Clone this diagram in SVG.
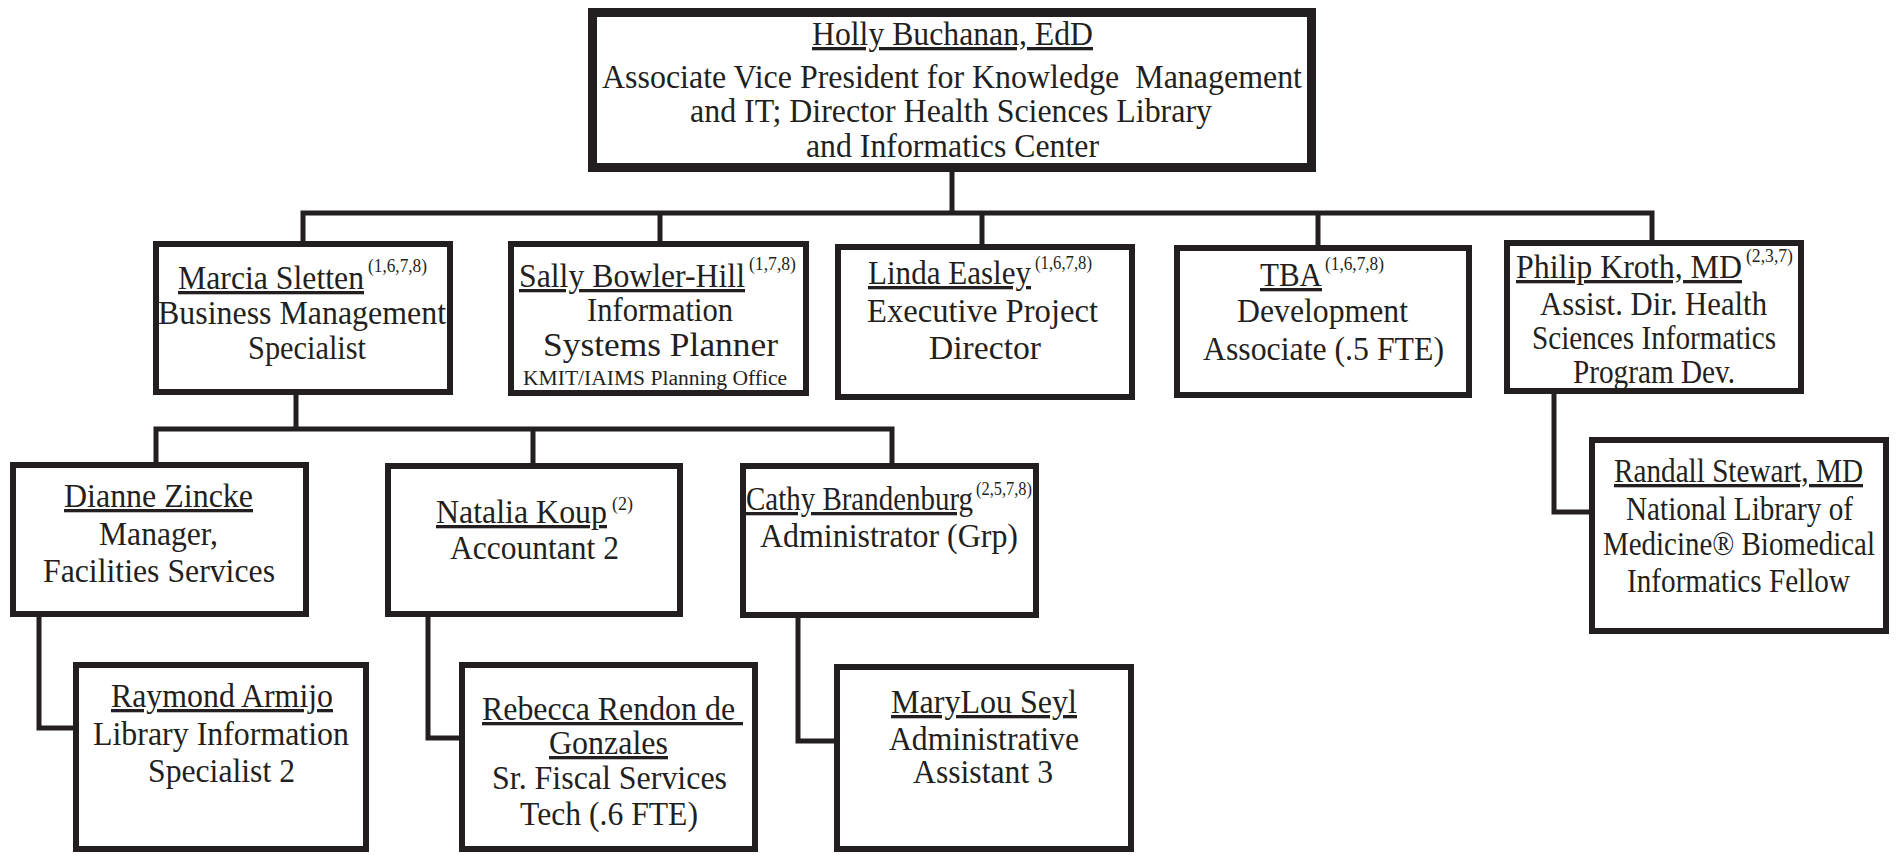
<svg xmlns="http://www.w3.org/2000/svg" width="1896" height="855" viewBox="0 0 1896 855">
<style>
.box{fill:#fff;stroke:#231f20;stroke-width:6}
.top{fill:#fff;stroke:#231f20;stroke-width:9}
.conn{fill:none;stroke:#231f20;stroke-width:5;stroke-linejoin:miter}
text{font-family:"Liberation Serif","Times New Roman",serif;font-size:33px;fill:#231f20}
.u{text-decoration:underline}
.sup{font-size:18px}
.sm{font-size:20px}
</style>
<rect width="1896" height="855" fill="#fff"/>
<g id="connectors">
<path class="conn" d="M952 172V213M303 242V213H1652V240M660 213V242M982 213V245M1318 213V246"/>
<path class="conn" d="M296 395V429M156 462V429H892V463M533 429V464"/>
<path class="conn" d="M39 617V728H74M428 617V738H460M798 618V741H835M1554 394V512H1590"/>
</g>
<g id="n-holly">
<rect class="top" x="592.5" y="12.5" width="719" height="155"/>
<text class="u" x="812" y="45" textLength="281" lengthAdjust="spacingAndGlyphs">Holly Buchanan, EdD</text>
<text x="602" y="88" textLength="700" lengthAdjust="spacingAndGlyphs" xml:space="preserve">Associate Vice President for Knowledge  Management</text>
<text x="690" y="122" textLength="522" lengthAdjust="spacingAndGlyphs">and IT; Director Health Sciences Library</text>
<text x="806" y="157" textLength="293" lengthAdjust="spacingAndGlyphs">and Informatics Center</text>
</g>
<g id="n-marcia">
<rect class="box" x="156" y="244" width="294" height="148"/>
<text class="u" x="178" y="289" textLength="186" lengthAdjust="spacingAndGlyphs">Marcia Sletten</text>
<text class="sup" x="368" y="272" textLength="59" lengthAdjust="spacingAndGlyphs">(1,6,7,8)</text>
<text x="158" y="324" textLength="288" lengthAdjust="spacingAndGlyphs">Business Management</text>
<text x="248" y="359" textLength="118" lengthAdjust="spacingAndGlyphs">Specialist</text>
</g>
<g id="n-sally">
<rect class="box" x="511" y="244" width="295" height="149"/>
<text class="u" x="519" y="287" textLength="226" lengthAdjust="spacingAndGlyphs">Sally Bowler-Hill</text>
<text class="sup" x="749" y="270" textLength="47" lengthAdjust="spacingAndGlyphs">(1,7,8)</text>
<text x="587" y="321" textLength="146" lengthAdjust="spacingAndGlyphs">Information</text>
<text x="543" y="356" textLength="235" lengthAdjust="spacingAndGlyphs">Systems Planner</text>
<text class="sm" x="523" y="385" textLength="264" lengthAdjust="spacingAndGlyphs">KMIT/IAIMS Planning Office</text>
</g>
<g id="n-linda">
<rect class="box" x="838" y="247" width="294" height="150"/>
<text class="u" x="868" y="284" textLength="163" lengthAdjust="spacingAndGlyphs">Linda Easley</text>
<text class="sup" x="1035" y="269" textLength="57" lengthAdjust="spacingAndGlyphs">(1,6,7,8)</text>
<text x="867" y="322" textLength="231" lengthAdjust="spacingAndGlyphs">Executive Project</text>
<text x="929" y="359" textLength="112" lengthAdjust="spacingAndGlyphs">Director</text>
</g>
<g id="n-tba">
<rect class="box" x="1177" y="248" width="292" height="147"/>
<text class="u" x="1260" y="286" textLength="62" lengthAdjust="spacingAndGlyphs">TBA</text>
<text class="sup" x="1325" y="270" textLength="59" lengthAdjust="spacingAndGlyphs">(1,6,7,8)</text>
<text x="1237" y="322" textLength="171" lengthAdjust="spacingAndGlyphs">Development</text>
<text x="1203" y="360" textLength="241" lengthAdjust="spacingAndGlyphs">Associate (.5 FTE)</text>
</g>
<g id="n-philip">
<rect class="box" x="1507" y="243" width="294" height="148"/>
<text class="u" x="1516" y="278" textLength="226" lengthAdjust="spacingAndGlyphs">Philip Kroth, MD</text>
<text class="sup" x="1746" y="262" textLength="47" lengthAdjust="spacingAndGlyphs">(2,3,7)</text>
<text x="1540" y="315" textLength="227" lengthAdjust="spacingAndGlyphs">Assist. Dir. Health</text>
<text x="1532" y="349" textLength="244" lengthAdjust="spacingAndGlyphs">Sciences Informatics</text>
<text x="1573" y="383" textLength="162" lengthAdjust="spacingAndGlyphs">Program Dev.</text>
</g>
<g id="n-dianne">
<rect class="box" x="13" y="465" width="293" height="149"/>
<text class="u" x="64" y="507" textLength="189" lengthAdjust="spacingAndGlyphs">Dianne Zincke</text>
<text x="99" y="545" textLength="119" lengthAdjust="spacingAndGlyphs">Manager,</text>
<text x="43" y="582" textLength="232" lengthAdjust="spacingAndGlyphs">Facilities Services</text>
</g>
<g id="n-natalia">
<rect class="box" x="388" y="466" width="292" height="148"/>
<text class="u" x="436" y="523" textLength="171" lengthAdjust="spacingAndGlyphs">Natalia Koup</text>
<text class="sup" x="612" y="510" textLength="21" lengthAdjust="spacingAndGlyphs">(2)</text>
<text x="450" y="559" textLength="169" lengthAdjust="spacingAndGlyphs">Accountant 2</text>
</g>
<g id="n-cathy">
<rect class="box" x="743" y="466" width="293" height="149"/>
<text class="u" x="746" y="510" textLength="227" lengthAdjust="spacingAndGlyphs">Cathy Brandenburg</text>
<text class="sup" x="976" y="495" textLength="56" lengthAdjust="spacingAndGlyphs">(2,5,7,8)</text>
<text x="760" y="547" textLength="258" lengthAdjust="spacingAndGlyphs">Administrator (Grp)</text>
</g>
<g id="n-raymond">
<rect class="box" x="76" y="665" width="290" height="184"/>
<text class="u" x="111" y="707" textLength="222" lengthAdjust="spacingAndGlyphs">Raymond Armijo</text>
<text x="93" y="745" textLength="256" lengthAdjust="spacingAndGlyphs">Library Information</text>
<text x="148" y="782" textLength="147" lengthAdjust="spacingAndGlyphs">Specialist 2</text>
</g>
<g id="n-rebecca">
<rect class="box" x="462" y="665" width="293" height="184"/>
<text class="u" x="482" y="720" textLength="261" lengthAdjust="spacingAndGlyphs" xml:space="preserve">Rebecca Rendon de </text>
<text class="u" x="549" y="754" textLength="119" lengthAdjust="spacingAndGlyphs">Gonzales</text>
<text x="492" y="789" textLength="235" lengthAdjust="spacingAndGlyphs">Sr. Fiscal Services</text>
<text x="520" y="825" textLength="178" lengthAdjust="spacingAndGlyphs">Tech (.6 FTE)</text>
</g>
<g id="n-marylou">
<rect class="box" x="837" y="667" width="294" height="182"/>
<text class="u" x="891" y="713" textLength="186" lengthAdjust="spacingAndGlyphs">MaryLou Seyl</text>
<text x="889" y="750" textLength="190" lengthAdjust="spacingAndGlyphs">Administrative</text>
<text x="913" y="783" textLength="140" lengthAdjust="spacingAndGlyphs">Assistant 3</text>
</g>
<g id="n-randall">
<rect class="box" x="1592" y="440" width="294" height="191"/>
<text class="u" x="1614" y="482" textLength="249" lengthAdjust="spacingAndGlyphs">Randall Stewart, MD</text>
<text x="1626" y="520" textLength="227" lengthAdjust="spacingAndGlyphs">National Library of</text>
<text x="1603" y="555" textLength="272" lengthAdjust="spacingAndGlyphs">Medicine® Biomedical</text>
<text x="1627" y="592" textLength="223" lengthAdjust="spacingAndGlyphs">Informatics Fellow</text>
</g>
</svg>
